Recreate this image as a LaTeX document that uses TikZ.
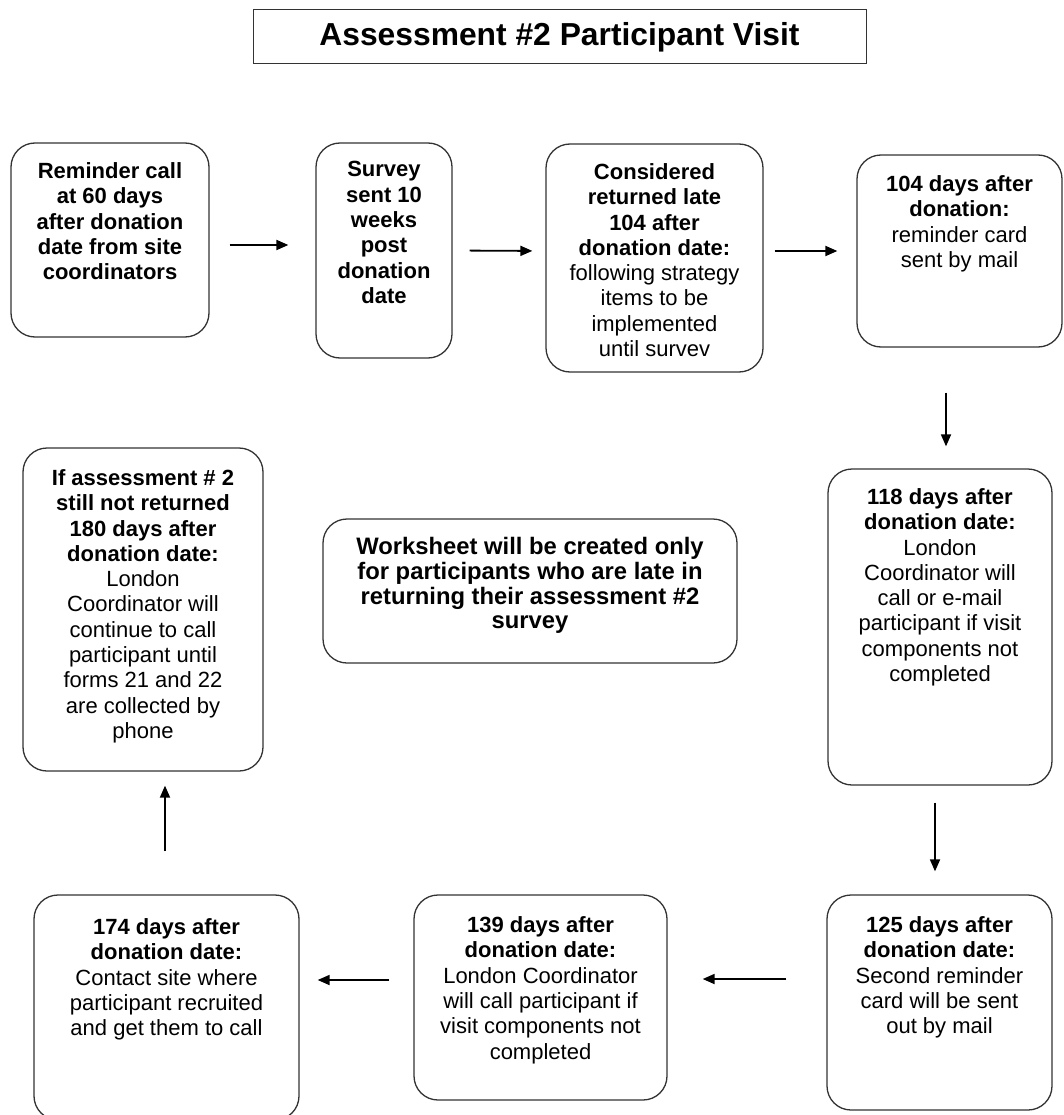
\documentclass[tikz,border=0pt]{standalone}
\usepackage{fontspec}
\setmainfont{Liberation Sans}
\usetikzlibrary{positioning,arrows.meta}
\tikzset{
    stepbox/.style={draw=black!80, line width=1.3pt, rounded corners=24pt, inner sep=0pt},
    steptext/.style={align=center, inner sep=0pt, text=black, font=\fontsize{22}{25.3}\selectfont},
    flow/.style={line width=1.8pt, -{Triangle[length=12pt,width=10pt]}}
}
\begin{document}
\begin{tikzpicture}[x=1pt, y=-1pt]
        \useasboundingbox (0, 0) rectangle (1063, 1115);
        % title
        \node [draw=black!80, line width=1pt, minimum width=613pt, minimum height=54pt, font=\bfseries\fontsize{31.8}{36}\selectfont] (title) at (559.5, 37) {Assessment \#2 Participant Visit};
        % boxes
        \node [stepbox, minimum width=198pt, minimum height=194pt] (remind) at (110, 240) {};
        \node [stepbox, minimum width=136pt, minimum height=215pt] (survey) at (384, 250.5) {};
        \node [stepbox, minimum width=217pt, minimum height=228pt] (late) at (654.5, 258) {};
        \node [stepbox, minimum width=205pt, minimum height=192pt] (day104) at (959.5, 251) {};
        \node [stepbox, minimum width=224pt, minimum height=316pt] (day118) at (940, 627) {};
        \node [stepbox, minimum width=225pt, minimum height=215pt] (day125) at (939.5, 1002.5) {};
        \node [stepbox, minimum width=253pt, minimum height=205pt] (day139) at (540.5, 997.5) {};
        \node [stepbox, minimum width=265pt, minimum height=225pt] (day174) at (166.5, 1007.5) {};
        \node [stepbox, minimum width=240pt, minimum height=323pt] (day180) at (143, 609.5) {};
        \node [stepbox, minimum width=414pt, minimum height=144pt] (sheet) at (530, 591) {};
        % texts
        \node [steptext, below=20pt of remind.north] (remindtxt) {\textbf{Reminder call}\\\textbf{at 60 days}\\\textbf{after donation}\\\textbf{date from site}\\\textbf{coordinators}};
        \node [steptext, below=19pt of survey.north] (surveytxt) {\textbf{Survey}\\\textbf{sent 10}\\\textbf{weeks}\\\textbf{post}\\\textbf{donation}\\\textbf{date}};
        \node [steptext, below=20pt of late.north] (latetxt) {\textbf{Considered}\\\textbf{returned late}\\\textbf{104 after}\\\textbf{donation date:}\\following strategy\\items to be\\implemented\\until survev};
        \node [steptext, below=21pt of day104.north] (day104txt) {\textbf{104 days after}\\\textbf{donation:}\\reminder card\\sent by mail};
        \node [steptext, below=20pt of day118.north] (day118txt) {\textbf{118 days after}\\\textbf{donation date:}\\London\\Coordinator will\\call or e-mail\\participant if visit\\components not\\completed};
        \node [steptext, below=22pt of day125.north] (day125txt) {\textbf{125 days after}\\\textbf{donation date:}\\Second reminder\\card will be sent\\out by mail};
        \node [steptext, below=22pt of day139.north] (day139txt) {\textbf{139 days after}\\\textbf{donation date:}\\London Coordinator\\will call participant if\\visit components not\\completed};
        \node [steptext, below=24pt of day174.north] (day174txt) {\textbf{174 days after}\\\textbf{donation date:}\\Contact site where\\participant recruited\\and get them to call};
        \node [steptext, below=22pt of day180.north] (day180txt) {\textbf{If assessment \# 2}\\\textbf{still not returned}\\\textbf{180 days after}\\\textbf{donation date:}\\London\\Coordinator will\\continue to call\\participant until\\forms 21 and 22\\are collected by\\phone};
        \node [steptext, font=\bfseries\fontsize{23.8}{24.6}\selectfont, below=19pt of sheet.north] (sheettxt) {Worksheet will be created only\\for participants who are late in\\returning their assessment \#2\\survey};
        % arrows
        \draw [flow, shorten <=20pt, shorten >=27pt] ([yshift=-5pt]remind.east) -- ([yshift=5.5pt]survey.west);
        \draw [flow, shorten <=17pt, shorten >=13pt] (survey.east) -- ([yshift=7pt]late.west);
        \draw [flow, shorten <=11pt, shorten >=19pt] ([yshift=7pt]late.east) -- (day104.west);
        \draw [flow, shorten <=45pt, shorten >=22pt] ([xshift=-13.5pt]day104.south) -- ([xshift=6pt]day118.north);
        \draw [flow, shorten <=17pt, shorten >=23pt] ([xshift=-5pt]day118.south) -- ([xshift=-4.5pt]day125.north);
        \draw [flow, shorten <=40pt, shorten >=35pt] ([yshift=23.5pt]day125.west) -- ([yshift=18.5pt]day139.east);
        \draw [flow, shorten <=24pt, shorten >=18pt] ([yshift=17.5pt]day139.west) -- ([yshift=27.5pt]day174.east);
        \draw [flow, shorten <=43pt, shorten >=14pt] ([xshift=-1.5pt]day174.north) -- ([xshift=22pt]day180.south);
    \end{tikzpicture}
\end{document}
